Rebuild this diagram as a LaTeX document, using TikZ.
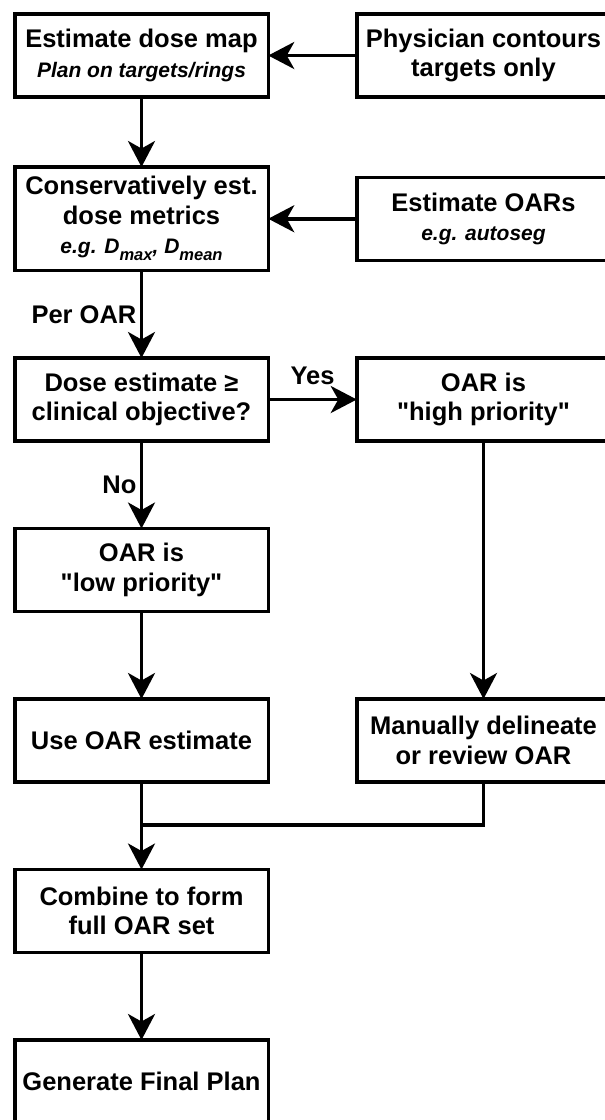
\documentclass[tikz,border=0pt]{standalone}
\usepackage{fontspec}
\setmainfont{Liberation Sans}
\usepackage{tikz}
\usetikzlibrary{positioning}
\usetikzlibrary{arrows.meta}
\tikzset{
    flow chart/.style={
            node distance=87.5pt and 88.5pt,
            font=\bfseries\fontsize{25.5}{29.5}\selectfont,
            box/.style={draw,line width=3.5pt,outer sep=0pt,minimum width=253.5pt,minimum height=83pt,align=center},
            arrow/.style={line width=3.5pt,-{Stealth[length=26pt,width=27pt,inset=7.5pt]}},
            line/.style={line width=3.5pt}
        }
    }
\newcommand{\subline}[1]{{\itshape\fontsize{21}{25}\selectfont #1}}
\newcommand{\lowr}[1]{\raisebox{-7pt}{\fontsize{16.5}{18}\selectfont #1}}

\begin{document}
\begin{tikzpicture}[flow chart]
    \useasboundingbox (0,0) rectangle (605pt,-1120pt);
    \clip (0,0) rectangle (605pt,-1120pt);
    \node (a) [box] at (141.5pt,-55.5pt) {Estimate dose map\\\subline{Plan on targets/rings}};
    \node (b) [box,below=70pt of a,minimum height=103.5pt] {Conservatively est.\\dose metrics\\\subline{e.g. D\lowr{max}, D\lowr{mean}}};
    \node (c) [box,below=of b] {Dose estimate ≥\\clinical objective?};
    \node (d) [box,below=of c] {OAR is\\\textquotedbl low priority\textquotedbl};
    \node (e) [box,below=of d] {Use OAR estimate};
    \node (f) [box,below=of e] {Combine to form\\full OAR set};
    \node (g) [box,below=of f] {Generate Final Plan};
    \node (h) [box,right=of a] {Physician contours\\targets only};
    \node (i) [box,right=of b] {Estimate OARs\\\subline{e.g. autoseg}};
    \node (j) [box,right=of c] {OAR is\\\textquotedbl high priority\textquotedbl};
    \node (k) [box,right=of e] {Manually delineate\\or review OAR};
    \coordinate [below=43pt of e] (m);
    \draw [arrow] (h) -- (a);
    \draw [arrow] (a) -- (b);
    \draw [arrow] (i) -- (b);
    \draw [arrow] (b) -- (c) node [midway,left] {Per OAR};
    \draw [arrow] (c) -- (j) node [midway,above=10pt] {Yes};
    \draw [arrow] (c) -- (d) node [midway,left] {No};
    \draw [arrow] (d) -- (e);
    \draw [arrow] (j) -- (k);
    \draw [arrow] (e) -- (f);
    \draw [line] (k) |- (m);
    \draw [arrow] (f) -- (g);
\end{tikzpicture}
\end{document}
